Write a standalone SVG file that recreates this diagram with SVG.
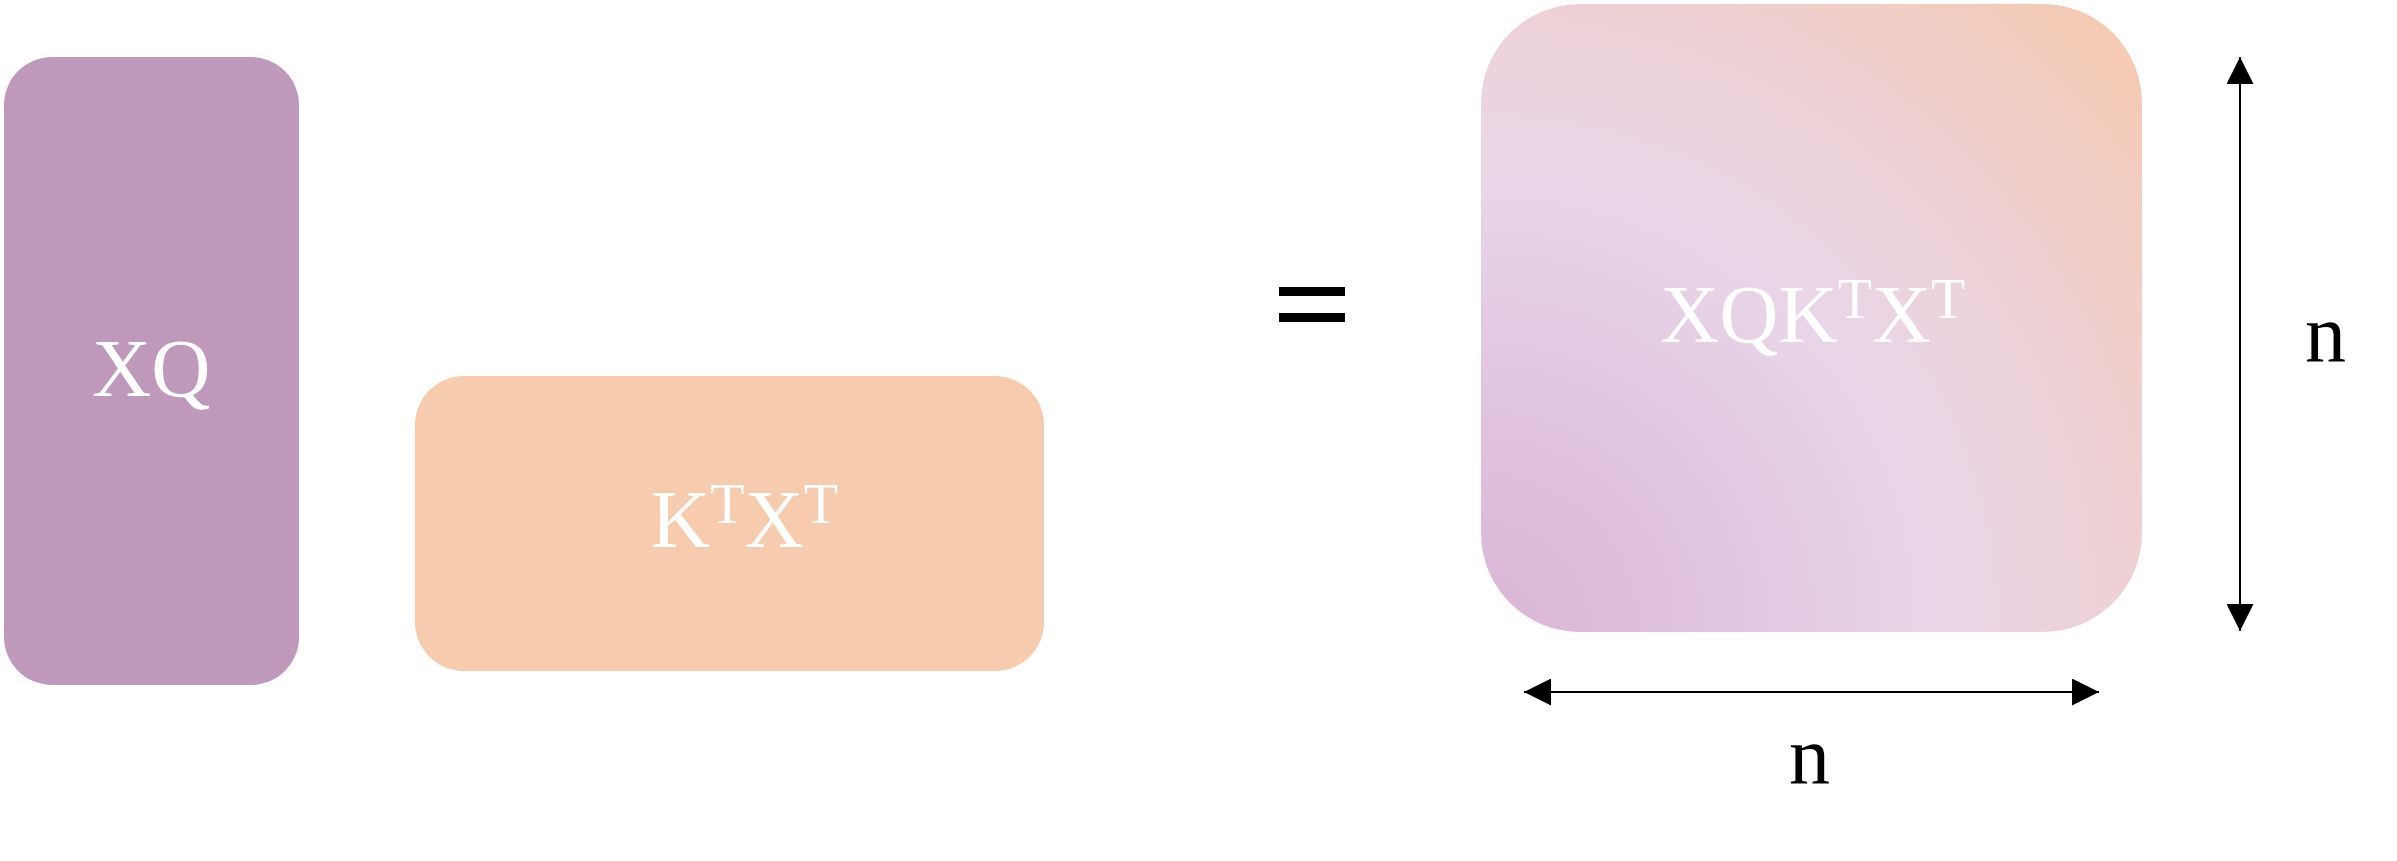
<svg xmlns="http://www.w3.org/2000/svg" width="2397" height="861" viewBox="0 0 2397 861">
  <style>
    .lbl { font-family: "Liberation Serif", "Times New Roman", serif; font-size: 82px; fill: #ffffff; }
    .sup { font-size: 56px; }
    .dim { font-family: "Liberation Serif", "Times New Roman", serif; font-size: 82px; fill: #000000; }
    .conn { stroke: #000000; stroke-width: 2; fill: none; marker-start: url(#arrow); marker-end: url(#arrow); }
  </style>
  <defs>
    <marker id="arrow" viewBox="0 0 10 10" refX="10" refY="5" markerUnits="userSpaceOnUse" markerWidth="27" markerHeight="27" orient="auto-start-reverse">
      <path d="M0,0 L10,5 L0,10 z" fill="#000000"/>
    </marker>
    <radialGradient id="grad" gradientUnits="userSpaceOnUse" cx="1481" cy="632" r="912">
      <stop offset="0" stop-color="#dab6d6"/>
      <stop offset="0.2" stop-color="#dfc0dd"/>
      <stop offset="0.5" stop-color="#e9d6e8"/>
      <stop offset="0.7" stop-color="#eed1d5"/>
      <stop offset="1" stop-color="#f6c9ad"/>
    </radialGradient>
  </defs>
  <rect width="2397" height="861" fill="#ffffff"/>

  <g id="node-xq">
    <rect x="4" y="57" width="295" height="628" rx="48" ry="48" fill="#bf99bb"/>
    <text class="lbl" x="92" y="396">XQ</text>
  </g>

  <g id="node-ktxt">
    <rect x="415" y="376" width="629" height="295" rx="49" ry="49" fill="#f7cbae"/>
    <text class="lbl" x="651" y="547">K<tspan class="sup" dy="-24">T</tspan><tspan dy="24">X</tspan><tspan class="sup" dy="-24">T</tspan></text>
  </g>

  <g id="node-equals">
    <rect x="1279" y="287" width="66" height="9" fill="#000000"/>
    <rect x="1279" y="313" width="66" height="9" fill="#000000"/>
  </g>

  <g id="node-result">
    <rect x="1481" y="4" width="661" height="628" rx="99" ry="99" fill="url(#grad)"/>
    <text class="lbl" x="1660" y="342">XQK<tspan class="sup" dy="-24">T</tspan><tspan dy="24">X</tspan><tspan class="sup" dy="-24">T</tspan></text>
  </g>

  <g id="connectors">
    <line class="conn" x1="2240" y1="57" x2="2240" y2="631"/>
    <line class="conn" x1="1524" y1="692" x2="2099" y2="692"/>
  </g>

  <g id="labels">
    <text class="dim" x="2305" y="361">n</text>
    <text class="dim" x="1789" y="783">n</text>
  </g>
</svg>
